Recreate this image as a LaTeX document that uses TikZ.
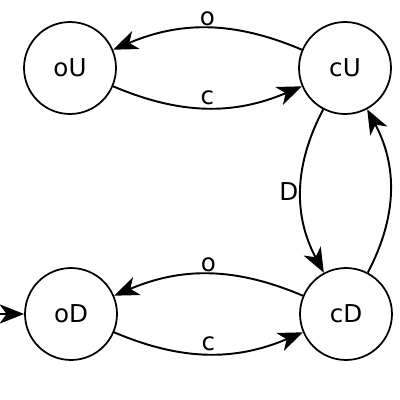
\documentclass[tikz,border=0pt]{standalone}
\usepackage{fontspec}
\setmainfont{DejaVu Sans}
\usetikzlibrary{arrows.meta}

\begin{document}
\begin{tikzpicture}[x=0.02cm,y=-0.02cm,stnode/.style={draw,circle,line width=1pt,minimum size=1.84cm,inner sep=0pt,font=\fontsize{14}{16}\selectfont},trans/.style={line width=1.1pt,-{Stealth[length=14pt,width=11pt,inset=4pt]}},lbl/.style={font=\fontsize{14}{16}\selectfont,inner sep=1pt}]
\useasboundingbox[fill=white] (0,0) rectangle (400,400);
\node[stnode] (oU) at (70,68) {oU};
\node[stnode] (cU) at (345,68) {cU};
\node[stnode] (oD) at (71,314) {oD};
\node[stnode] (cD) at (346,314) {cD};
\coordinate (start) at (0,314);
\draw[trans] (cU) to[bend right=23] node[lbl,midway,above] {o} (oU);
\draw[trans] (oU) to[bend right=23] node[lbl,midway,above] {c} (cU);
\draw[trans] (cD) to[bend right=23] node[lbl,midway,above] {o} (oD);
\draw[trans] (oD) to[bend right=23] node[lbl,midway,above] {c} (cD);
\draw[trans] (cU) to[bend right=28] node[lbl,midway,left] {D} (cD);
\draw[trans] (cD) to[bend right=28] (cU);
\draw[trans] (start) -- (oD);
\end{tikzpicture}
\end{document}
